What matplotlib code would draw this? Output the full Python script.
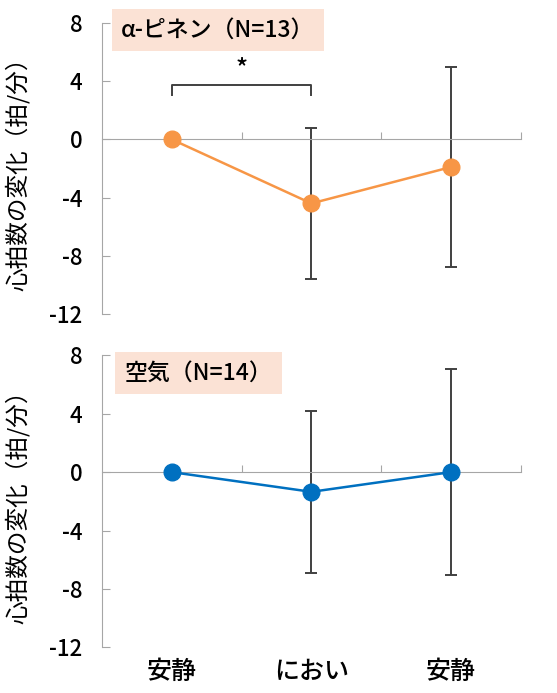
import matplotlib.pyplot as plt
from matplotlib.transforms import blended_transform_factory

plt.rcParams['font.family'] = ['Noto Sans CJK JP', 'DejaVu Sans']
plt.rcParams['font.weight'] = 'medium'

categories = ["安静", "におい", "安静"]
pinene_mean = [0.0, -4.4, -1.9]
pinene_err = [0.0, 5.2, 6.85]
air_mean = [0.0, -1.35, 0.0]
air_err = [0.0, 5.55, 7.05]
panel_titles = ["α-ピネン（N=13）", "空気（N=14）"]
yticks = [8, 4, 0, -4, -8, -12]
ylabel = "心拍数の変化（拍/分）"
sig_pair = (0, 1)
sig_mark = "*"

fig = plt.figure(figsize=(5.57, 6.93), dpi=100)
ax1 = fig.add_axes([0.183, 0.5469, 0.752, 0.4199])
ax2 = fig.add_axes([0.183, 0.0659, 0.752, 0.4214])

gray = "#A6A6A6"
dark = "#404040"


def style_panel(ax, means, errs, color, title, title_xy):
    x = list(range(len(means)))
    ax.errorbar(x, means, yerr=errs, fmt="none", ecolor=dark, elinewidth=1.4,
                capsize=4, capthick=1.4, zorder=2)
    ax.plot(x, means, color=color, lw=1.8, marker="o", markersize=12, zorder=3)
    ax.set_xlim(-0.5, 2.5)
    ax.set_ylim(-12, 8)
    ax.set_yticks(yticks)
    ax.set_yticklabels([str(t) for t in yticks], fontsize=16)
    ax.tick_params(axis="y", direction="in", length=6, color=gray, pad=14)
    ax.set_xticks([0.5, 1.5, 2.5])
    ax.set_xticklabels([])
    ax.tick_params(axis="x", direction="in", length=5, color=gray)
    for s in ["top", "right"]:
        ax.spines[s].set_visible(False)
    ax.spines["left"].set_color(gray)
    ax.spines["bottom"].set_color(gray)
    ax.spines["bottom"].set_position(("data", 0))
    ax.set_ylabel(ylabel, fontsize=17)
    ax.yaxis.set_label_coords(-0.172, 0.5)
    ax.text(title_xy[0], title_xy[1], title, transform=ax.transAxes, fontsize=16.5,
            ha="center", va="center", clip_on=False,
            bbox=dict(boxstyle="square,pad=0.42", fc="#FBE2D5", ec="none"))


style_panel(ax1, pinene_mean, pinene_err, "#F79646", panel_titles[0], (0.277, 0.976))
style_panel(ax2, air_mean, air_err, "#0070C0", panel_titles[1], (0.2315, 0.939))

# significance bracket
a, b = sig_pair
ax1.plot([a, a, b, b], [3.05, 3.73, 3.73, 3.05], color=dark, lw=1.4)
ax1.text((a + b) / 2, 3.95, sig_mark, ha="center", va="bottom", fontsize=18)

trans = blended_transform_factory(ax2.transData, ax2.transAxes)
for i, c in enumerate(categories):
    ax2.text(i, -0.085, c, transform=trans, ha="center", va="center", fontsize=18)

fig.savefig("out.png", dpi=100)
